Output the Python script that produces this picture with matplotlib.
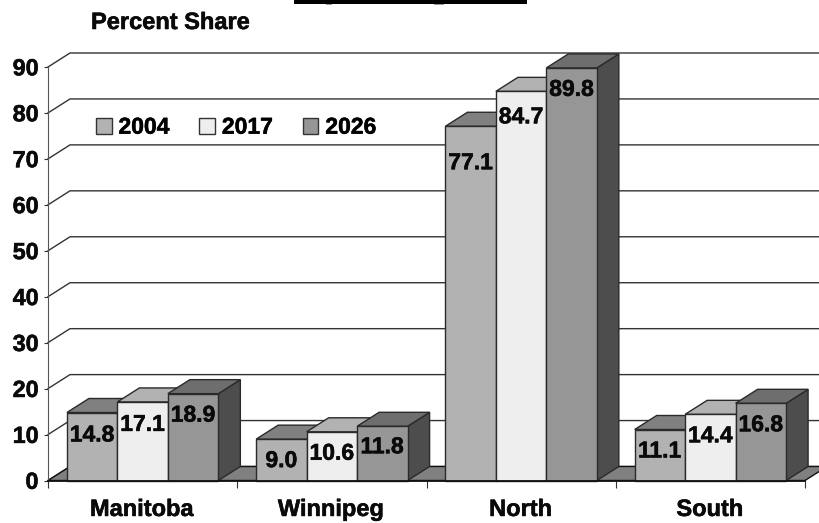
import matplotlib
matplotlib.use("Agg")
import matplotlib.pyplot as plt
import matplotlib.patheffects as pe
from matplotlib.patches import Patch, Polygon, Rectangle

plt.rcParams['font.family'] = ['Liberation Sans', 'DejaVu Sans']
plt.rcParams['font.weight'] = 'bold'
plt.rcParams['text.hinting'] = 'no_hinting'
plt.rcParams['text.hinting_factor'] = 1

# data
categories = ["Manitoba", "Winnipeg", "North", "South"]
years = ["2004", "2017", "2026"]
values_2004 = [14.8, 9.0, 77.1, 11.1]
values_2017 = [17.1, 10.6, 84.7, 14.4]
values_2026 = [18.9, 11.8, 89.8, 16.8]
y_ticks = [0, 10, 20, 30, 40, 50, 60, 70, 80, 90]

W, H = 820, 523
fig = plt.figure(figsize=(W / 100, H / 100), dpi=100)
ax = fig.add_axes([48 / W, (H - 480.5) / H, 757 / W, 413.5 / H])
ax.set_xlim(0, 4)
ax.set_ylim(0, 90)

# depth of the fake 3d, in data units
dx = 22 / 189.25
dy = 14 / 4.594
bar_w = 0.2667
gap = 0.1

front_cols = ["#b2b2b2", "#eeeeee", "#969696"]
top_cols = ["#808080", "#b2b2b2", "#6e6e6e"]
side_col = "#4d4d4d"
edge = "#2a2a2a"
heavy = [pe.withStroke(linewidth=0.4, foreground="#0a0a0a")]


def face(pts, col, z):
    ax.add_patch(Polygon(pts, closed=True, facecolor=col, edgecolor=edge,
                         linewidth=1.0, clip_on=False, zorder=z))


# back wall lines
for v in y_ticks:
    ax.plot([0, dx, 4 + dx], [v, v + dy, v + dy], color="#333333", lw=1.0,
            clip_on=False, zorder=1)

# floor
ax.add_patch(Polygon([(0, 0), (dx, dy), (4 + dx, dy), (4, 0)], closed=True,
                     facecolor="#808080", edgecolor="#111111", linewidth=1.0,
                     clip_on=False, zorder=2))

# bars
series = [values_2004, values_2017, values_2026]
label_drop = [[23, 23, 22], [22, 22, 21], [37, 26, 22], [22, 22, 22]]
z = 3
for c in range(len(categories)):
    for s, vals in enumerate(series):
        v = vals[c]
        x0 = c + gap + s * bar_w
        x1 = x0 + bar_w
        face([(x1, 0), (x1 + dx, dy), (x1 + dx, v + dy), (x1, v)], side_col, z)
        face([(x0, v), (x1, v), (x1 + dx, v + dy), (x0 + dx, v + dy)], top_cols[s], z)
        face([(x0, 0), (x1, 0), (x1, v), (x0, v)], front_cols[s], z + 1)
        ax.annotate(f"{v:.1f}", (x0 + bar_w / 2, v), xytext=(0, -label_drop[c][s] * 0.72),
                    textcoords="offset points", ha="center", va="center",
                    fontsize=16.5, color="#0a0a0a", zorder=50, path_effects=heavy)
        z += 2

# axes
for sp in ["top", "right"]:
    ax.spines[sp].set_visible(False)
ax.spines["left"].set_color("#555555")
ax.spines["bottom"].set_color("#111111")
ax.spines["bottom"].set_linewidth(1.3)
ax.spines["bottom"].set_zorder(40)
ax.patch.set_visible(False)
ax.set_yticks(y_ticks)
ax.tick_params(axis="y", length=3, width=0.8, color="#333333", pad=4, labelsize=16.8,
               labelcolor="#0a0a0a")
ax.set_xticks([0, 1, 2, 3, 4])
ax.set_xticklabels([])
ax.tick_params(axis="x", which="major", length=5, width=0.8, color="#333333")
ax.set_xticks([0.5, 1.5, 2.5, 3.5], minor=True)
ax.set_xticklabels(categories, minor=True)
ax.tick_params(axis="x", which="minor", length=0, pad=13, labelsize=17, labelcolor="#0a0a0a")
for lab in ax.get_yticklabels() + ax.get_xticklabels(minor=True):
    lab.set_path_effects(heavy)

leg = ax.legend(handles=[Patch(facecolor=c, edgecolor="#333333", label=y)
                         for c, y in zip(front_cols, years)],
                ncol=3, frameon=False, fontsize=16.5, handlelength=0.68, handleheight=0.7,
                handletextpad=0.3, columnspacing=1.3, borderpad=0, borderaxespad=0,
                loc="upper left", bbox_to_anchor=(96 / W, (H - 117) / H),
                bbox_transform=fig.transFigure)
for lab in leg.get_texts():
    lab.set_path_effects(heavy)

fig.text(91 / W, (H - 29) / H, "Percent Share", fontsize=17, va="baseline", color="#0a0a0a",
         path_effects=heavy)

# the cut off title box at the top edge, with the tips of two descenders under it
fig.add_artist(Rectangle((294 / W, (H - 4) / H), 233 / W, 4 / H, transform=fig.transFigure,
                         facecolor="black", edgecolor="none"))
for tip_x, tip_w in [(326, 6), (434, 10)]:
    fig.add_artist(Rectangle((tip_x / W, (H - 5) / H), tip_w / W, 1 / H, transform=fig.transFigure,
                             facecolor="#999999", edgecolor="none"))

fig.savefig("out.png", dpi=100)
